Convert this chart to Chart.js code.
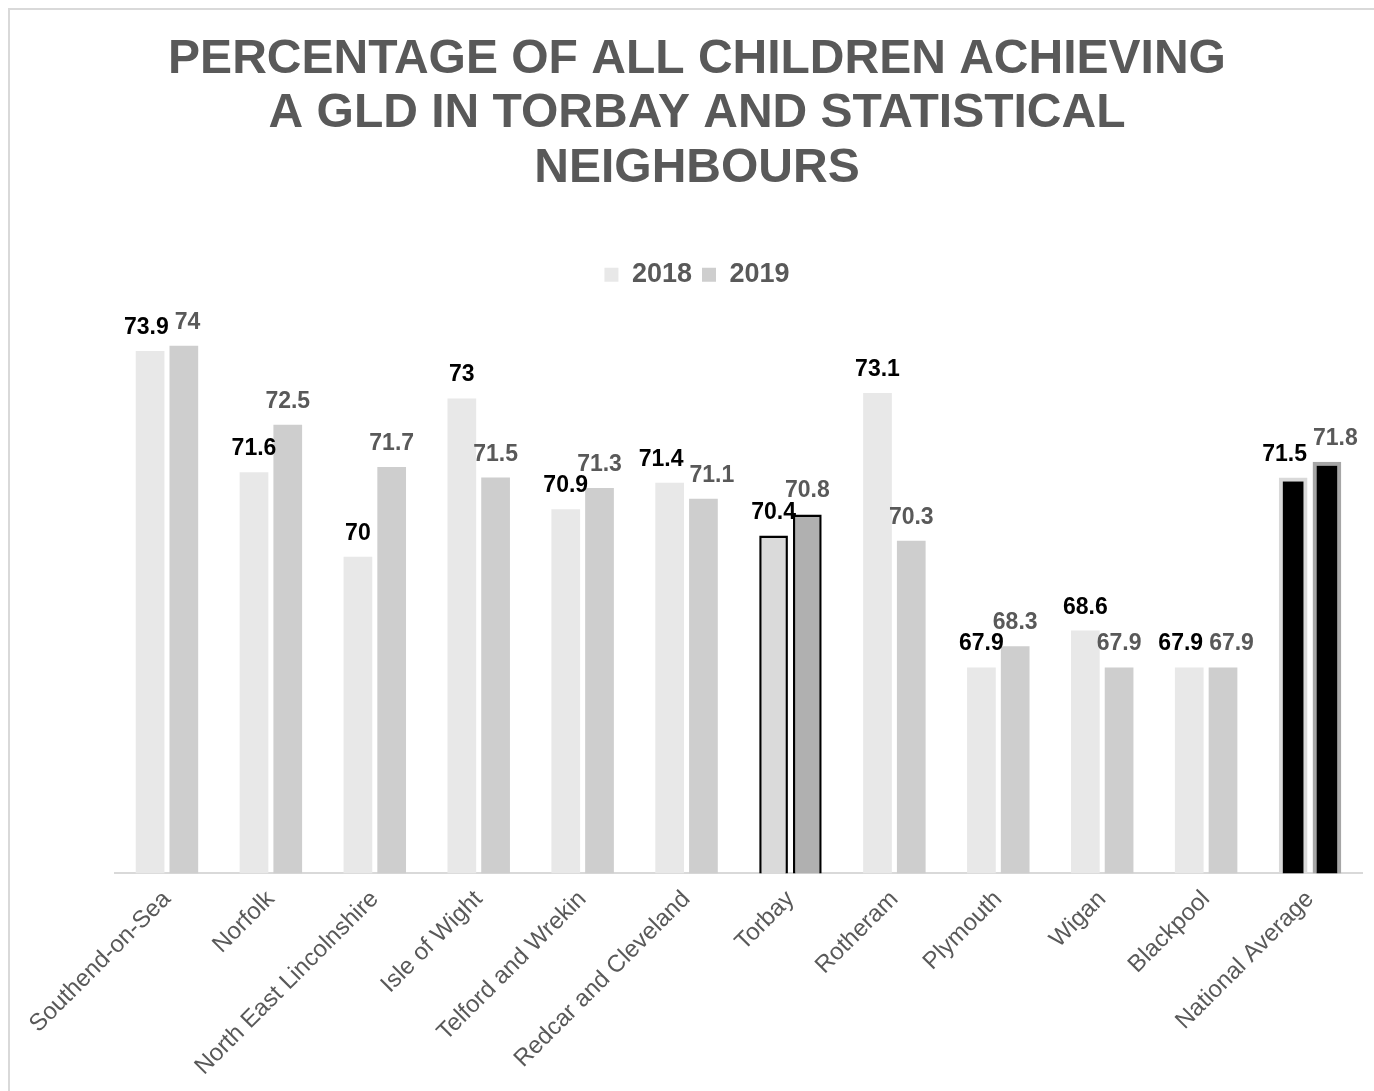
<!DOCTYPE html>
<html>
<head>
<meta charset="utf-8">
<script src="https://cdn.jsdelivr.net/npm/chart.js@4/dist/chart.umd.min.js"></script>
<style>
  html, body { margin: 0; padding: 0; background: #ffffff; overflow: hidden; }
  #frame { position: absolute; left: 8px; top: 8px; width: 1400px; height: 1200px;
           border-left: 2px solid #d9d9d9; border-top: 2px solid #d9d9d9; box-sizing: border-box; }
  #wrap { position: absolute; left: 0; top: 0; width: 1374px; height: 1103px; }
</style>
</head>
<body>
<div id="frame"></div>
<div id="wrap"><canvas id="c" width="1374" height="1103"></canvas></div>
<script>
// ---- data ----
const titleLines = ['PERCENTAGE OF ALL CHILDREN ACHIEVING', 'A GLD IN TORBAY AND STATISTICAL', 'NEIGHBOURS'];
const categories = ['Southend-on-Sea', 'Norfolk', 'North East Lincolnshire', 'Isle of Wight',
  'Telford and Wrekin', 'Redcar and Cleveland', 'Torbay', 'Rotheram', 'Plymouth', 'Wigan',
  'Blackpool', 'National Average'];
const seriesNames = ['2018', '2019'];
const values2018 = [73.9, 71.6, 70, 73, 70.9, 71.4, 70.4, 73.1, 67.9, 68.6, 67.9, 71.5];
const values2019 = [74, 72.5, 71.7, 71.5, 71.3, 71.1, 70.8, 70.3, 68.3, 67.9, 67.9, 71.8];
const highlightCategory = 'Torbay';
const nationalCategory = 'National Average';
const yMin = 64;
const yMax = 74.9;

// ---- styles ----
const FONT = "'Liberation Sans', Arial, sans-serif";
const TEXT_GREY = '#595959';
const baseFill = ['#e8e8e8', '#cecece'];
const highlightFill = ['#dadada', '#b0b0b0'];
const nationalBorder = ['#d9d9d9', '#a6a6a6'];
const labelColors = ['#000000', '#595959'];

function fillFor(series) {
  return (ctx) => {
    const cat = categories[ctx.dataIndex];
    if (cat === nationalCategory) return '#000000';
    if (cat === highlightCategory) return highlightFill[series];
    return baseFill[series];
  };
}
function borderColorFor(series) {
  return (ctx) => {
    const cat = categories[ctx.dataIndex];
    if (cat === nationalCategory) return nationalBorder[series];
    if (cat === highlightCategory) return '#000000';
    return 'rgba(0,0,0,0)';
  };
}
function borderWidthFor() {
  return (ctx) => {
    const cat = categories[ctx.dataIndex];
    if (cat === nationalCategory) return 4;
    if (cat === highlightCategory) return 2.5;
    return 0;
  };
}

const valueLabels = {
  id: 'valueLabels',
  afterDatasetsDraw(chart) {
    const ctx = chart.ctx;
    ctx.save();
    ctx.font = 'bold 23px ' + FONT;
    ctx.textAlign = 'center';
    ctx.textBaseline = 'alphabetic';
    const m0 = chart.getDatasetMeta(0), m1 = chart.getDatasetMeta(1);
    for (let i = 0; i < categories.length; i++) {
      const items = [m0, m1].map((m, s) => {
        const el = m.data[i];
        const txt = String(chart.data.datasets[s].data[i]);
        const w = ctx.measureText(txt).width;
        return { txt, w, x: el.x, y: el.y - 17, s };
      });
      const [a, b] = items;
      const gap = 6;
      const need = (a.w + b.w) / 2 + gap;
      const dist = b.x - a.x;
      if (Math.abs(a.y - b.y) < 20 && dist < need) {
        const shift = (need - dist) / 2;
        a.x -= shift; b.x += shift;
      }
      items.forEach(it => {
        ctx.fillStyle = labelColors[it.s];
        ctx.fillText(it.txt, it.x, it.y);
      });
    }
    ctx.restore();
  }
};

new Chart(document.getElementById('c'), {
  type: 'bar',
  data: {
    labels: categories,
    datasets: [
      { label: seriesNames[0], data: values2018, backgroundColor: fillFor(0),
        borderColor: borderColorFor(0), borderWidth: borderWidthFor(), borderSkipped: false },
      { label: seriesNames[1], data: values2019, backgroundColor: fillFor(1),
        borderColor: borderColorFor(1), borderWidth: borderWidthFor(), borderSkipped: false }
    ]
  },
  options: {
    responsive: false,
    animation: false,
    devicePixelRatio: 1,
    layout: { padding: { left: 32, right: 12, top: 0, bottom: 10 } },
    datasets: { bar: { categoryPercentage: 0.65, barPercentage: 0.85 } },
    plugins: {
      title: {
        display: true,
        text: titleLines,
        color: TEXT_GREY,
        font: { family: FONT, size: 48, weight: 'bold', lineHeight: 1.14 },
        padding: { top: 32, bottom: 55 }
      },
      legend: {
        display: true,
        position: 'top',
        labels: {
          boxWidth: 14, boxHeight: 14, padding: 10,
          color: TEXT_GREY,
          font: { family: FONT, size: 27, weight: 'bold' },
          generateLabels: () => seriesNames.map((n, s) => ({
            text: n, fillStyle: baseFill[s], strokeStyle: baseFill[s], lineWidth: 0,
            fontColor: TEXT_GREY, datasetIndex: s, hidden: false
          }))
        }
      },
      tooltip: { enabled: false }
    },
    scales: {
      x: {
        grid: { display: false, drawTicks: false },
        border: { display: true, color: '#d9d9d9', width: 2 },
        ticks: {
          color: TEXT_GREY, font: { family: FONT, size: 24 },
          minRotation: 45, maxRotation: 45, autoSkip: false, padding: 12
        }
      },
      y: {
        display: true,
        min: yMin, max: yMax,
        grid: { display: false, drawTicks: false },
        border: { display: false },
        ticks: { display: false },
        afterFit: (scale) => { scale.width = 83; }
      }
    }
  },
  plugins: [valueLabels]
});
</script>
</body>
</html>
